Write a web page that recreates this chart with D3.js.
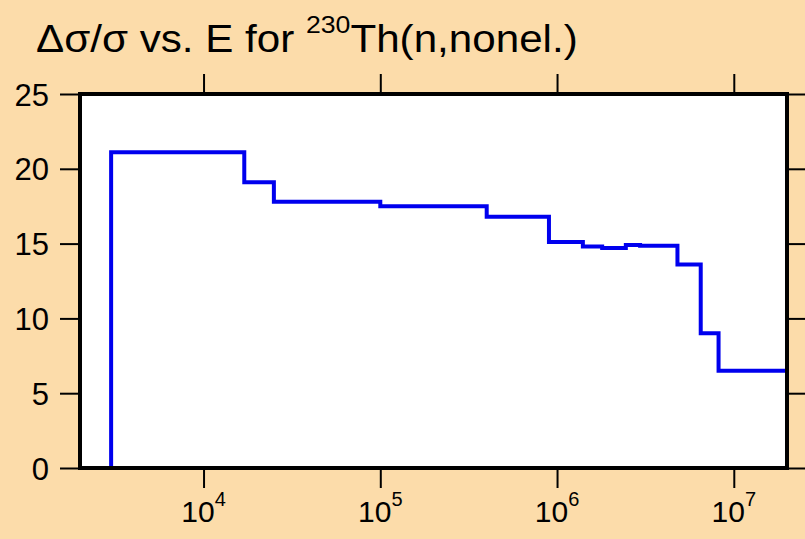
<!DOCTYPE html>
<html><head><meta charset="utf-8">
<script src="https://cdn.jsdelivr.net/npm/d3@7"></script>
<style>body{margin:0;background:#fcdcaa;} svg{display:block;}</style>
</head><body>
<svg id="c" width="805" height="539"></svg>
<script>
const binEdges = [3e3, 1.7e4, 2.5e4, 1e5, 4e5, 9e5, 1.4e6, 1.8e6, 2.45e6, 2.95e6, 4.8e6, 6.5e6, 8.2e6, 2e7];
const binValues = [21.1, 19.1, 17.8, 17.5, 16.8, 15.1, 14.8, 14.7, 14.9, 14.85, 13.6, 9.0, 6.5];
const xTicks = [1e4, 1e5, 1e6, 1e7];
const xTickExp = ["4", "5", "6", "7"];
const yTicks = [0, 5, 10, 15, 20, 25];

const W = 805, H = 539;
const L = 80, R = 787, T = 94, B = 468;
const svg = d3.select("#c");
svg.append("rect").attr("width", W).attr("height", H).attr("fill", "#fcdcaa");

const x = d3.scaleLog().domain([2e3, 2e7]).range([L, R]);
const y = d3.scaleLinear().domain([0, 25]).range([B, T]);

svg.append("rect").attr("x", L).attr("y", T).attr("width", R - L).attr("height", B - T).attr("fill", "#fff");

// step line
const pts = [[binEdges[0], 0]];
binValues.forEach((v, i) => pts.push([binEdges[i], v]));
pts.push([binEdges[binEdges.length - 1], binValues[binValues.length - 1]]);
pts.push([binEdges[binEdges.length - 1], 0]);
const line = d3.line().x(d => x(d[0])).y(d => y(d[1])).curve(d3.curveStepAfter);
svg.append("path").attr("d", line(pts)).attr("fill", "none").attr("stroke", "#0000ee").attr("stroke-width", 4).attr("stroke-linejoin", "miter");

// axes
const tickLen = 20;
const font = "Liberation Sans, Arial, sans-serif";
const gL = svg.append("g").attr("transform", `translate(${L},0)`).call(d3.axisLeft(y).tickValues(yTicks).tickSize(tickLen).tickSizeOuter(0).tickPadding(11));
const gR = svg.append("g").attr("transform", `translate(${R},0)`).call(d3.axisRight(y).tickValues(yTicks).tickSize(tickLen).tickSizeOuter(0).tickFormat(""));
const gB = svg.append("g").attr("transform", `translate(0,${B})`).call(d3.axisBottom(x).tickValues(xTicks).tickSize(tickLen).tickSizeOuter(0).tickFormat(""));
const gT = svg.append("g").attr("transform", `translate(0,${T})`).call(d3.axisTop(x).tickValues(xTicks).tickSize(tickLen).tickSizeOuter(0).tickFormat(""));
[gL, gR, gB, gT].forEach(g => {
  g.select(".domain").remove();
  g.selectAll(".tick line").attr("stroke", "#000").attr("stroke-width", 2);
});
gL.selectAll(".tick text").attr("font-family", font).attr("font-size", 31).attr("fill", "#000").attr("dy", "0.36em");

// x tick labels with superscripts
xTicks.forEach((t, i) => {
  const txt = svg.append("text").attr("x", x(t)).attr("y", 522).attr("text-anchor", "middle")
    .attr("font-family", font).attr("font-size", 30).attr("fill", "#000");
  txt.append("tspan").text("10");
  txt.append("tspan").attr("dy", -16).attr("font-size", 20).text(xTickExp[i]);
});

// frame
svg.append("rect").attr("x", L).attr("y", T).attr("width", R - L).attr("height", B - T)
  .attr("fill", "none").attr("stroke", "#000").attr("stroke-width", 4);

// title
const title = svg.append("text").attr("transform", "translate(36,52) scale(1.11,1)")
  .attr("font-family", font).attr("font-size", 38).attr("fill", "#000");
title.append("tspan").text("Δσ/σ vs. E for ");
title.append("tspan").attr("dy", -19).attr("font-size", 24).text("230");
title.append("tspan").attr("dy", 19).text("Th(n,nonel.)");
</script>
</body></html>
